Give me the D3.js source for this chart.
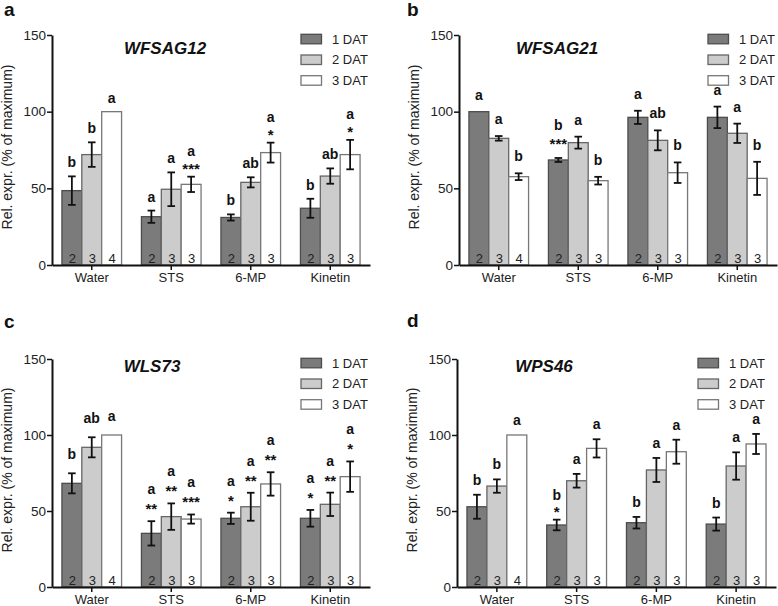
<!DOCTYPE html>
<html><head><meta charset="utf-8">
<script src="https://cdn.jsdelivr.net/npm/d3@7"></script>
<style>
body{margin:0;background:#fff}
svg text{font-family:"Liberation Sans",Arial,sans-serif}
</style>
</head><body>
<svg id="chart" width="778" height="606"></svg>
<script>
// ---------- data ----------
const categories = ["Water", "STS", "6-MP", "Kinetin"];
const seriesNames = ["1 DAT", "2 DAT", "3 DAT"];
const yTicks = [0, 50, 100, 150];
const nLabels = [[2, 3, 4], [2, 3, 3], [2, 3, 3], [2, 3, 3]];
const panelLetters = ["a", "b", "c", "d"];
const geneNames = ["WFSAG12", "WFSAG21", "WLS73", "WPS46"];
const yAxisTitle = "Rel. expr. (% of maximum)";

// WFSAG12
const wfsag12Values = [[48.5, 72, 100], [31.5, 49.4, 52.6], [31, 53.9, 73.3], [37, 58, 72]];
const wfsag12Errors = [[9.3, 8, 0], [4, 11, 5], [2, 3.3, 6.5], [6.2, 5, 9.6]];
const wfsag12Letters = [["b", "b", "a"], ["a", "a", "a"], ["b", "ab", "a"], ["b", "ab", "a"]];
const wfsag12Stars = [["", "", ""], ["", "", "***"], ["", "", "*"], ["", "", "*"]];

// WFSAG21
const wfsag21Values = [[100, 82.6, 57.6], [68.5, 79.8, 55], [96.3, 81.3, 60.2], [96.3, 85.9, 56.5]];
const wfsag21Errors = [[0, 1.5, 2.2], [1.3, 3.9, 2.5], [4.3, 6.5, 6.7], [7, 6.3, 10.8]];
const wfsag21Letters = [["a", "a", "b"], ["b", "a", "b"], ["a", "ab", "b"], ["a", "a", "b"]];
const wfsag21Stars = [["", "", ""], ["***", "", ""], ["", "", ""], ["", "", ""]];

// WLS73
const wls73Values = [[68.2, 91.9, 100], [35.3, 46.3, 44.7], [45.2, 52.8, 67.8], [45.2, 54.4, 72.6]];
const wls73Errors = [[6.6, 6.6, 0], [8, 8.7, 3], [3.7, 9.2, 7.7], [5.5, 7.7, 10]];
const wls73Letters = [["b", "ab", "a"], ["a", "a", "a"], ["a", "a", "a"], ["a", "a", "a"]];
const wls73Stars = [["", "", ""], ["**", "**", "***"], ["*", "**", "**"], ["*", "**", "*"]];

// WPS46
const wps46Values = [[52.8, 66.4, 100], [40.8, 69.9, 91.2], [42.3, 77, 89], [41.4, 79.6, 94.1]];
const wps46Errors = [[7.9, 4.4, 0], [3.5, 4.5, 6], [3.8, 7.9, 7.9], [4.3, 9, 6.6]];
const wps46Letters = [["b", "b", "a"], ["b", "a", "a"], ["b", "a", "a"], ["b", "a", "a"]];
const wps46Stars = [["", "", ""], ["*", "", ""], ["", "", ""], ["", "", ""]];

const panelData = [
  {values: wfsag12Values, errors: wfsag12Errors, letters: wfsag12Letters, stars: wfsag12Stars},
  {values: wfsag21Values, errors: wfsag21Errors, letters: wfsag21Letters, stars: wfsag21Stars},
  {values: wls73Values, errors: wls73Errors, letters: wls73Letters, stars: wls73Stars},
  {values: wps46Values, errors: wps46Errors, letters: wps46Letters, stars: wps46Stars}
];

// ---------- layout / style ----------
const layout = [
  {left: 52, right: 370, y0: 265, yTop: 35, labX: 4, labY: 16, titleX: 165, titleY: 54, legX: 301, yTitleX: 12, gap: 9, starBase: 3, starLetter: 21},
  {left: 459, right: 777, y0: 265, yTop: 35, labX: 407, labY: 16, titleX: 557, titleY: 54, legX: 708, yTitleX: 419, gap: 12, starBase: 9, starLetter: 28},
  {left: 52, right: 370, y0: 587, yTop: 359, labX: 4, labY: 328, titleX: 152, titleY: 372, legX: 301, yTitleX: 12, gap: 14, starBase: 7, starLetter: 27},
  {left: 457, right: 776, y0: 587, yTop: 359, labX: 407, labY: 327, titleX: 544, titleY: 372, legX: 698, yTitleX: 417, gap: 10, starBase: 3, starLetter: 20}
];
const fills = ["#7b7b7b", "#cccccc", "#ffffff"];
const strokes = ["#4d4d4d", "#666666", "#777777"];

const svg = d3.select("#chart");

panelData.forEach((pd, pi) => {
  const L = layout[pi];
  const g = svg.append("g");
  const y = d3.scaleLinear().domain([0, 150]).range([L.y0, L.yTop]);
  const x = d3.scaleBand().domain(categories).range([L.left, L.right]).paddingInner(0.25).paddingOuter(0.125);
  const xs = d3.scaleBand().domain(seriesNames).range([0, x.bandwidth()]);

  // bars
  categories.forEach((cat, ci) => {
    seriesNames.forEach((s, si) => {
      const v = pd.values[ci][si];
      const e = pd.errors[ci][si];
      const bx = x(cat) + xs(s);
      const bw = xs.bandwidth();
      const cx = bx + bw / 2;
      g.append("rect").attr("x", bx).attr("y", y(v)).attr("width", bw).attr("height", y(0) - y(v))
        .attr("fill", fills[si]).attr("stroke", strokes[si]).attr("stroke-width", 1.3);
      g.append("text").attr("x", cx + 0.5).attr("y", L.y0 - 2.5).attr("text-anchor", "middle")
        .attr("font-size", 13).attr("fill", "#222").text(nLabels[ci][si]);
      if (e > 0) {
        const eg = g.append("g").attr("stroke", "#111").attr("stroke-width", 1.8);
        eg.append("line").attr("x1", cx).attr("x2", cx).attr("y1", y(v + e)).attr("y2", y(v - e));
        eg.append("line").attr("x1", cx - 3.8).attr("x2", cx + 3.8).attr("y1", y(v + e)).attr("y2", y(v + e));
        eg.append("line").attr("x1", cx - 3.8).attr("x2", cx + 3.8).attr("y1", y(v - e)).attr("y2", y(v - e));
      }
      const top = y(v + e);
      const star = pd.stars[ci][si];
      let letterY = top - L.gap;
      if (star) {
        g.append("text").attr("x", cx).attr("y", top - L.starBase).attr("text-anchor", "middle")
          .attr("font-size", 15).attr("font-weight", "bold").attr("fill", "#111").text(star);
        letterY = top - L.starLetter;
      }
      g.append("text").attr("x", cx).attr("y", letterY).attr("text-anchor", "middle")
        .attr("font-size", 14).attr("font-weight", "bold").attr("fill", "#111").text(pd.letters[ci][si]);
    });
  });

  // axes
  const ya = g.append("g").attr("transform", `translate(${L.left},0)`)
    .call(d3.axisLeft(y).tickValues(yTicks).tickSize(5).tickPadding(1).tickSizeOuter(0));
  ya.select(".domain").attr("stroke", "#111").attr("stroke-width", 2);
  ya.selectAll(".tick line").attr("stroke", "#111").attr("stroke-width", 1.5);
  ya.selectAll(".tick text").attr("font-size", 13.5).attr("fill", "#222")
    .style("font-family", '"Liberation Sans",Arial,sans-serif');

  const xa = g.append("g").attr("transform", `translate(0,${L.y0})`)
    .call(d3.axisBottom(x).tickSize(5).tickPadding(3).tickSizeOuter(0));
  xa.select(".domain").attr("stroke", "#111").attr("stroke-width", 2);
  xa.selectAll(".tick line").attr("stroke", "#111").attr("stroke-width", 1.5);
  xa.selectAll(".tick text").attr("font-size", 13).attr("fill", "#222")
    .style("font-family", '"Liberation Sans",Arial,sans-serif');

  // y title
  g.append("text").attr("transform", `translate(${L.yTitleX},${(L.y0 + L.yTop) / 2 - 3}) rotate(-90)`)
    .attr("text-anchor", "middle").attr("font-size", 14).attr("fill", "#222").text(yAxisTitle);

  // gene title
  g.append("text").attr("x", L.titleX).attr("y", L.titleY).attr("text-anchor", "middle")
    .attr("font-size", 17).attr("font-weight", "bold").attr("font-style", "italic").attr("fill", "#111")
    .text(geneNames[pi]);

  // panel letter
  g.append("text").attr("x", L.labX).attr("y", L.labY).attr("font-size", 19).attr("font-weight", "bold")
    .attr("fill", "#111").text(panelLetters[pi]);

  // legend
  seriesNames.forEach((s, si) => {
    const cy = L.yTop + 4 + si * 20.7;
    g.append("rect").attr("x", L.legX).attr("y", cy - 4.7).attr("width", 20.5).attr("height", 9.5)
      .attr("fill", fills[si]).attr("stroke", strokes[si]).attr("stroke-width", 1.3);
    g.append("text").attr("x", L.legX + 31).attr("y", cy + 4.7).attr("font-size", 13).attr("fill", "#222").text(s);
  });
});
</script>
</body></html>
